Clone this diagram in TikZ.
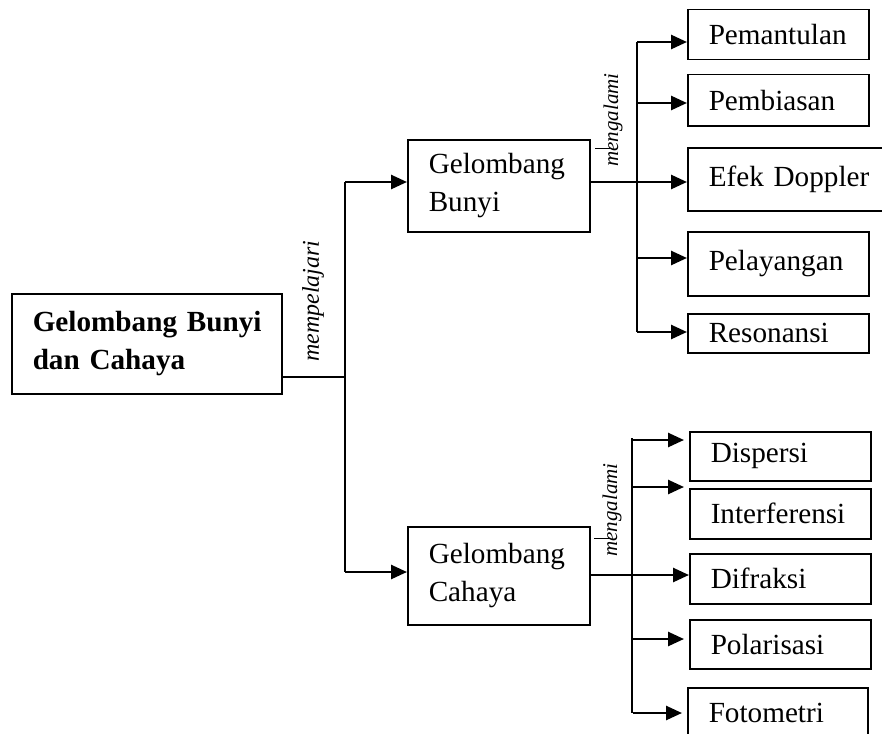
\documentclass[tikz,border=0pt]{standalone}
\usepackage{fontspec}
\setmainfont{Liberation Serif}
\usetikzlibrary{arrows.meta}
\tikzset{
	box/.style={draw, line width=0.75pt, rectangle, anchor=north west, align=left, inner xsep=10.5pt, inner ysep=0pt, font=\fontsize{14.6}{19}\selectfont},
	leaf/.style={box, text width=69.5pt},
	link/.style={line width=1.3pt, -{Triangle[length=8pt,width=7pt]}},
	trunk/.style={line width=0.65pt},
	verb/.style={rotate=90, inner sep=0pt, font=\itshape\fontsize{10.5}{12}\selectfont}
}

\begin{document}
\begin{tikzpicture}[x=0.5pt, y=-0.5pt]
		%%%%% START %%%%%
		\useasboundingbox (0,0) rectangle (882,733);
		
		\node[box, font=\bfseries\fontsize{14.6}{19}\selectfont, text width=114pt, minimum height=50pt] (root) at (11,293) {Gelombang~Bunyi\\dan Cahaya};
		
		\node[box, text width=70pt, minimum height=46pt] (bunyi) at (407,139) {Gelombang\\Bunyi};
		\node[box, text width=70pt, minimum height=49pt] (cahaya) at (407,526) {Gelombang\\Cahaya};
		
		% bunyi
		\node[leaf, minimum height=25pt] (pemantulan) at (687,9) {Pemantulan};
		\node[leaf, minimum height=25.5pt] (pembiasan) at (687,74) {Pembiasan};
		\node[box, text width=94pt, minimum height=31.5pt] (doppler) at (687,147) {Efek Doppler};
		\node[leaf, minimum height=32pt] (pelayangan) at (687,231) {Pelayangan};
		\node[leaf, minimum height=19.5pt] (resonansi) at (687,313) {Resonansi};
		
		% cahaya
		\node[leaf, minimum height=24.5pt] (dispersi) at (689,431) {Dispersi};
		\node[leaf, minimum height=25pt] (interferensi) at (689,488) {Interferensi};
		\node[leaf, minimum height=25pt] (difraksi) at (689,553) {Difraksi};
		\node[leaf, minimum height=24.5pt] (polarisasi) at (689,619) {Polarisasi};
		\node[leaf, text width=69pt, minimum height=25pt] (fotometri) at (687,687) {Fotometri};
		
		% mempelajari
		\coordinate (j0) at (345,377);
		\coordinate (jb) at (345,182);
		\coordinate (jc) at (345,572);
		\draw[trunk] (root.east |- j0) -- (j0);
		\draw[trunk] (jb) -- (jc);
		\draw[link] (jb) -- (bunyi.west |- jb);
		\draw[link] (jc) -- (cahaya.west |- jc);
		\node[verb, font=\itshape\fontsize{12}{14}\selectfont] (pelajari) at (313,301) {mempelajari};
		
		% mengalami (bunyi)
		\coordinate (bm) at (637,182);
		\draw[trunk] (bunyi.east |- bm) -- (bm);
		\draw[trunk] (637,42) -- (637,332);
		\draw[link] (bm) -- (doppler.west |- bm);
		\foreach \n/\y in {pemantulan/42, pembiasan/103, pelayangan/258, resonansi/332}{
			\coordinate (a) at (637,\y);
			\draw[link] (a) -- (\n.west |- a);
		}
		\node[verb] (alami1) at (613,120) {mengalami};
		\draw[trunk, line width=0.4pt] (595,148) -- (610,148);
		
		% mengalami (cahaya)
		\coordinate (cm) at (632,575);
		\draw[line width=1.3pt] (cahaya.east |- cm) -- (cm);
		\draw[trunk] (632,438) -- (632,713);
		\draw[link] (cm) -- (difraksi.west |- cm);
		\foreach \n/\y in {dispersi/440, interferensi/487, polarisasi/639, fotometri/713}{
			\coordinate (a) at (633,\y);
			\draw[link, shorten >=2.5pt] (a) -- (\n.west |- a);
		}
		\node[verb] (alami2) at (612,510) {mengalami};
		\draw[trunk, line width=0.4pt] (594,538) -- (610,538);
		
		%%%%% END %%%%%
\end{tikzpicture}
\end{document}
